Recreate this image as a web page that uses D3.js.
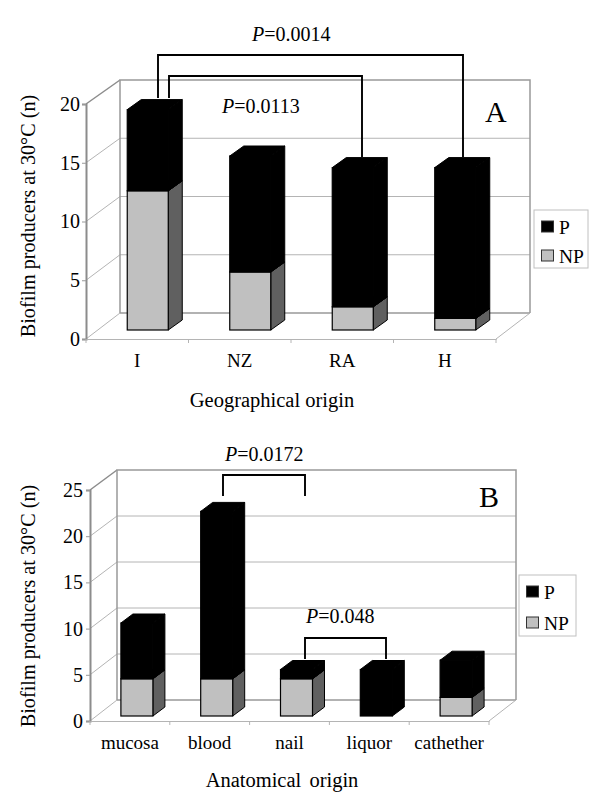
<!doctype html>
<html>

<head>
  <meta charset="utf-8">
  <title>Biofilm producers at 30°C</title>
  <style>
    html, body { margin: 0; padding: 0; background: #fff; }
    svg { display: block; }
    text { font-family: "Liberation Serif", serif; fill: #000; }
  </style>
</head>

<body>
  <div id="chart"></div>

  <script src="https://d3js.org/d3.v7.min.js"></script>

  <script>
    // values
    var geoCategories = ['I', 'NZ', 'RA', 'H'];
    var geoNP = [12, 5, 2, 1];
    var geoP = [7, 10, 12, 13];
    var geoTicks = [0, 5, 10, 15, 20];

    var anatCategories = ['mucosa', 'blood', 'nail', 'liquor', 'cathether'];
    var anatNP = [4, 4, 4, 0, 2];
    var anatP = [6, 18, 1, 5, 4];
    var anatTicks = [0, 5, 10, 15, 20, 25];

    var seriesNames = ['NP', 'P'];
    var yTitle = 'Biofilm producers at 30°C (n)';

    var svg = d3.select('#chart').append('svg')
      .attr('width', 600)
      .attr('height', 800);

    function drawPanel(p) {
      var g = svg.append('g');
      var max = p.ticks[p.ticks.length - 1];

      var xFront = d3.scaleBand().domain(p.categories).range([p.left, p.right]);
      var yFront = d3.scaleLinear().domain([0, max]).range([p.base, p.top]);
      var yBack = d3.scaleLinear().domain([0, max]).range([p.base - p.depthY, p.backTop]);
      var yBar = d3.scaleLinear().domain([0, max]).range([p.barBase, p.barBase - p.barUnit * max]);

      // walls
      var backLeft = p.left + p.depthX;
      var backRight = p.right + p.depthX;

      g.selectAll('.grid').data(p.ticks.slice(1, -1)).enter().append('line')
        .attr('x1', backLeft).attr('x2', backRight)
        .attr('y1', yBack).attr('y2', yBack)
        .attr('stroke', '#b4b4b4').attr('stroke-width', 1);

      g.selectAll('.diag').data(p.ticks).enter().append('line')
        .attr('x1', p.left).attr('x2', backLeft)
        .attr('y1', yFront).attr('y2', yBack)
        .attr('stroke', function(d) { return d == max ? '#8c8c8c' : '#b4b4b4'; })
        .attr('stroke-width', function(d) { return d == max ? 1.5 : 1; });

      g.append('path')
        .attr('d', 'M' + backLeft + ',' + yBack(0) + 'V' + p.backTop + 'H' + backRight + 'V' + yBack(0))
        .attr('fill', 'none').attr('stroke', '#999').attr('stroke-width', 1.5);
      g.append('line')
        .attr('x1', backLeft).attr('x2', backRight)
        .attr('y1', yBack(0)).attr('y2', yBack(0))
        .attr('stroke', '#999').attr('stroke-width', 1.5);
      g.append('line')
        .attr('x1', p.right).attr('x2', backRight)
        .attr('y1', p.base).attr('y2', yBack(0))
        .attr('stroke', '#b4b4b4').attr('stroke-width', 1);

      // front axes
      var axisY = g.append('g')
        .attr('transform', 'translate(' + p.left + ',0)')
        .call(d3.axisLeft(yFront).tickValues(p.ticks).tickSize(4).tickPadding(p.tickPad));
      axisY.select('.domain').attr('stroke', '#8c8c8c').attr('stroke-width', 2);
      axisY.selectAll('.tick line').attr('stroke', '#999');
      axisY.selectAll('text').attr('font-size', 20).attr('font-family', '"Liberation Serif", serif');

      var axisX = g.append('g')
        .attr('transform', 'translate(0,' + p.base + ')')
        .call(d3.axisBottom(xFront).tickSize(0).tickPadding(p.labelPad));
      axisX.select('.domain').attr('stroke', '#b4b4b4').attr('stroke-width', 1);
      axisX.selectAll('text').attr('font-size', p.labelSize).attr('font-family', '"Liberation Serif", serif');

      var edges = p.categories.map(function(c) { return xFront(c); }).concat([p.right]);
      g.selectAll('.edge').data(edges).enter().append('line')
        .attr('x1', function(d) { return d; }).attr('x2', function(d) { return d; })
        .attr('y1', p.base).attr('y2', p.base + 4)
        .attr('stroke', '#b4b4b4');

      // stacked bars
      var table = p.categories.map(function(c, i) {
        return { cat: c, NP: p.np[i], P: p.p[i] };
      });
      var stacked = d3.stack().keys(seriesNames)(table);
      var barW = p.barWidth;
      var dx = p.barDepthX, dy = p.barDepthY;

      function barLeft(d) {
        return xFront(d.data.cat) + xFront.bandwidth() / 2 + p.barShift - barW / 2;
      }

      stacked.forEach(function(layer) {
        var isP = layer.key == 'P';
        var segs = g.append('g').selectAll('g')
          .data(layer.filter(function(d) { return d[1] > d[0]; }))
          .enter().append('g');

        segs.append('polygon') // side face
          .attr('points', function(d) {
            var x = barLeft(d) + barW, y0 = yBar(d[0]), y1 = yBar(d[1]);
            return [[x, y0], [x + dx, y0 - dy], [x + dx, y1 - dy], [x, y1]].join(' ');
          })
          .attr('fill', isP ? '#000' : '#606060')
          .attr('stroke', '#000').attr('stroke-width', 1);

        segs.append('polygon') // top face
          .attr('points', function(d) {
            var x = barLeft(d), y1 = yBar(d[1]);
            return [[x, y1], [x + dx, y1 - dy], [x + barW + dx, y1 - dy], [x + barW, y1]].join(' ');
          })
          .attr('fill', '#000')
          .attr('stroke', '#000').attr('stroke-width', 1);

        segs.append('rect') // front face
          .attr('x', barLeft)
          .attr('y', function(d) { return yBar(d[1]); })
          .attr('width', barW)
          .attr('height', function(d) { return yBar(d[0]) - yBar(d[1]); })
          .attr('fill', isP ? '#000' : '#c0c0c0')
          .attr('stroke', '#000').attr('stroke-width', 1.2);
      });

      // significance brackets
      p.brackets.forEach(function(b) {
        var d = 'M' + b.x1 + ',' + b.y1 + 'V' + b.top + 'H' + b.x2 + 'V' + b.y2;
        g.append('path').attr('d', d)
          .attr('fill', 'none').attr('stroke', '#000').attr('stroke-width', 1.9);
        var t = g.append('text')
          .attr('x', b.tx).attr('y', b.ty)
          .attr('font-size', 20);
        t.append('tspan').attr('font-style', 'italic').text('P');
        t.append('tspan').text('=' + b.label);
      });

      // panel letter
      g.append('text')
        .attr('x', p.letterX).attr('y', p.letterY)
        .attr('font-size', 30)
        .text(p.letter);

      // titles
      g.append('text')
        .attr('transform', 'translate(' + p.yTitleX + ',' + p.yTitleY + ') rotate(-90)')
        .attr('text-anchor', 'middle')
        .attr('font-size', 20.2)
        .text(yTitle);
      g.append('text')
        .attr('x', p.xTitleX).attr('y', p.xTitleY)
        .attr('text-anchor', 'middle')
        .attr('font-size', 20.5)
        .attr('word-spacing', p.xTitleSpacing)
        .text(p.xTitle);

      // legend
      var lg = p.legend;
      g.append('rect')
        .attr('x', lg.x).attr('y', lg.y).attr('width', lg.w).attr('height', lg.h)
        .attr('fill', '#fff').attr('stroke', '#c0c0c0');
      ['P', 'NP'].forEach(function(name, i) {
        g.append('rect')
          .attr('x', lg.x + 7.5).attr('y', lg.rows[i] - 12)
          .attr('width', 12).attr('height', 11)
          .attr('fill', name == 'P' ? '#000' : '#c0c0c0')
          .attr('stroke', '#333').attr('stroke-width', 1);
        g.append('text')
          .attr('x', lg.x + 25).attr('y', lg.rows[i] + 1)
          .attr('font-size', 19.5)
          .text(name);
      });
    }

    drawPanel({
      categories: geoCategories, np: geoNP, p: geoP, ticks: geoTicks,
      left: 86, right: 496, base: 339, top: 104, backTop: 80,
      depthX: 34, depthY: 26,
      barBase: 330, barUnit: 11.6, barWidth: 41, barDepthX: 14, barDepthY: 10, barShift: 10.5,
      labelPad: 15, labelSize: 19, tickPad: 2,
      letter: 'A', letterX: 485, letterY: 122,
      yTitleX: 35, yTitleY: 216,
      xTitle: 'Geographical origin', xTitleX: 272, xTitleY: 407, xTitleSpacing: 0,
      brackets: [
        { x1: 158, y1: 98, x2: 463, y2: 157, top: 55, label: '0.0014', tx: 252, ty: 41 },
        { x1: 169, y1: 98, x2: 362, y2: 157, top: 76, label: '0.0113', tx: 222, ty: 113 }
      ],
      legend: { x: 534, y: 210, w: 54, h: 58, rows: [233, 262] }
    });

    drawPanel({
      categories: anatCategories, np: anatNP, p: anatP, ticks: anatTicks,
      left: 90, right: 489, base: 721, top: 490, backTop: 470,
      depthX: 27, depthY: 21,
      barBase: 716, barUnit: 9.3, barWidth: 32, barDepthX: 12, barDepthY: 9, barShift: 7,
      labelPad: 15, labelSize: 19, tickPad: 3,
      letter: 'B', letterX: 479, letterY: 507,
      yTitleX: 35, yTitleY: 606,
      xTitle: 'Anatomical origin', xTitleX: 282, xTitleY: 787, xTitleSpacing: 3,
      brackets: [
        { x1: 223, y1: 496, x2: 305, y2: 496, top: 475, label: '0.0172', tx: 225, ty: 461 },
        { x1: 305, y1: 659, x2: 386, y2: 659, top: 638, label: '0.048', tx: 306, ty: 623 }
      ],
      legend: { x: 519, y: 575, w: 57, h: 61, rows: [598, 629] }
    });
  </script>

</body>

</html>
